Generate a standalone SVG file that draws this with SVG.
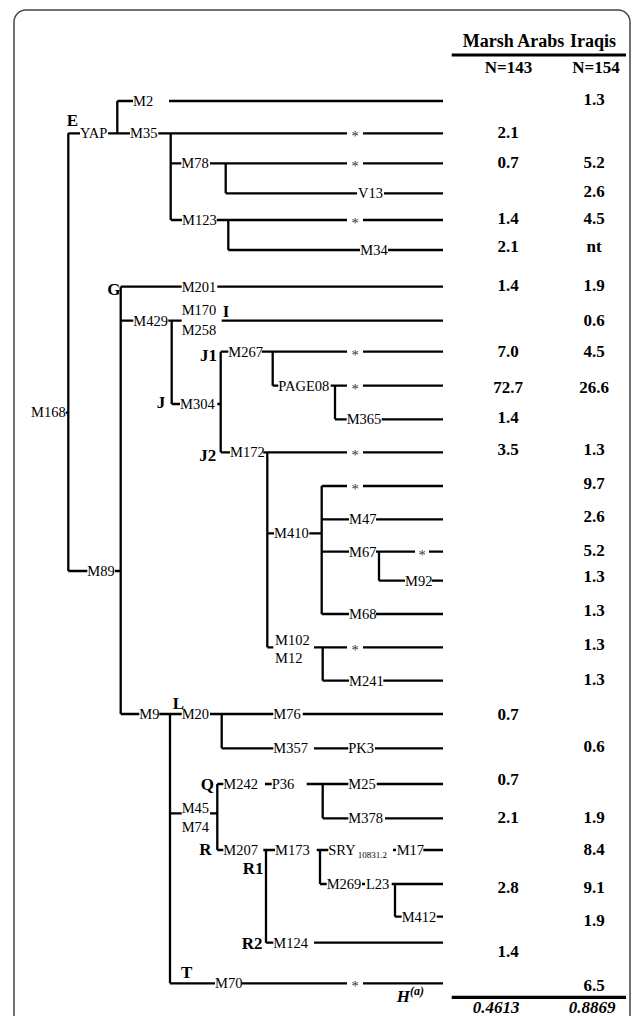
<svg xmlns="http://www.w3.org/2000/svg" width="633" height="1016" viewBox="0 0 633 1016">
<style>
.ln{fill:none;stroke:#000;stroke-width:2.3;stroke-linecap:butt}
.thick{fill:none;stroke:#000;stroke-width:3.2}
.lb{font-family:"Liberation Serif","Times New Roman",serif;font-size:14.5px;fill:#000}
.st{font-family:"Liberation Serif","Times New Roman",serif;font-size:14.5px;fill:#333;text-anchor:middle}
.hg{font-family:"Liberation Serif","Times New Roman",serif;font-size:17px;font-weight:bold;fill:#000}
.v{font-family:"Liberation Serif","Times New Roman",serif;font-size:17px;font-weight:bold;fill:#000;text-anchor:middle}
.hd{font-family:"Liberation Serif","Times New Roman",serif;font-size:18px;font-weight:bold;fill:#000}
.it{font-family:"Liberation Serif","Times New Roman",serif;font-size:17px;font-weight:bold;font-style:italic;fill:#000;text-anchor:middle}
</style>
<rect x="0" y="0" width="633" height="1016" fill="#fff"/>
<rect x="14" y="10" width="616" height="1030" rx="12" ry="12" fill="#fff" stroke="#444" stroke-width="1.5"/>

<g id="connectors">
<path class="ln" d="M68.3,133.3V571 M68.3,133.3H80 M108,133.3H130 M158.3,133.3H347 M363,133.3H443
M117.3,101V133.3 M117.3,101H133 M169,101H443
M170.7,133.3V220 M170.7,163.3H181.3 M210,163.3H347 M363,163.3H443
M225.7,163.3V193.3 M225.7,193.3H357 M384,193.3H443
M170.7,220H182 M216.7,220H347 M363,220H443
M228.3,220V250 M228.3,250H360 M388,250H443
M65.7,412.7H68.3 M68.3,571H87.3 M115,571H120.7"/>
<path class="ln" d="M120.7,286.7V714 M120.7,286.7H181.7 M217.3,286.7H443
M120.7,320.7H133.3 M168.3,320.7H181.7 M221.7,320.7H443
M171.7,320.7V404 M171.7,404H180 M217.3,404H220.7
M220.7,351.7V452.3 M220.7,351.7H228.3 M261.7,351.7H347 M363,351.7H443
M272.7,351.7V385.7 M272.7,385.7H278.3 M330.7,385.7H347 M363,385.7H443
M335,385.7V419.3 M335,419.3H346.7 M381.7,419.3H443
M220.7,452.3H230 M263.3,452.3H347 M363,452.3H443
M267.3,452.3V647.3 M267.3,533.3H274 M309.3,533.3H321.7
M321.7,486V614 M321.7,486H347 M363,486H443
M321.7,519.3H349 M376,519.3H443
M321.7,551.7H349 M376,551.7H415 M429,551.7H443
M379,551.7V580.7 M379,580.7H405 M431.7,580.7H443
M321.7,614H349 M376,614H443
M267.3,647.3H273.3 M314,647.3H347 M363,647.3H443
M322.7,647.3V680.7 M322.7,680.7H349 M383.3,680.7H443"/>
<path class="ln" d="M120.7,714H139.3 M159.3,714H181.7 M170,714V983.3
M210,714H273.3 M302.7,714H443
M221.7,714V748.3 M221.7,748.3H273.3 M314,748.3H348.3 M375,748.3H443
M170,813.3H181.7 M210,813.3H217.3
M217.3,784V850 M217.3,784H223.3 M265,784H271.7 M306.7,784H348.3 M376.7,784H443
M322.7,784V818.3 M322.7,818.3H348.3 M385,818.3H443
M217.3,850H223.3 M263.3,850H275
M266,850V942.7
M316.7,850H328.3 M320,850V884
M393,850H396 M423.3,850H443
M320,884H326.7 M362,884H365 M391.7,884H443
M395,884V916.7 M395,916.7H401.7 M436.7,916.7H443
M266,942.7H273.3 M314,942.7H443
M170,983.3H215 M241.7,983.3H347 M363,983.3H443"/>
<path class="thick" d="M451.7,55H626 M451.7,997.3H626"/>
</g>

<g id="labels">
<text class="lb" x="133" y="106">M2</text>
<text class="lb" x="80" y="138.3">YAP</text>
<text class="lb" x="130" y="138.3">M35</text>
<text class="lb" x="181.3" y="168.3">M78</text>
<text class="lb" x="370.5" y="198.3" text-anchor="middle">V13</text>
<text class="lb" x="182" y="225">M123</text>
<text class="lb" x="374" y="255" text-anchor="middle">M34</text>
<text class="lb" x="31" y="417">M168</text>
<text class="lb" x="87.3" y="576">M89</text>
<text class="lb" x="181.7" y="291.7">M201</text>
<text class="lb" x="133.3" y="325.7">M429</text>
<text class="lb" x="181.7" y="315">M170</text>
<text class="lb" x="181.7" y="335">M258</text>
<text class="lb" x="180" y="409">M304</text>
<text class="lb" x="228.3" y="356.7">M267</text>
<text class="lb" x="278.3" y="390.7">PAGE08</text>
<text class="lb" x="346.7" y="424.3">M365</text>
<text class="lb" x="230" y="457.3">M172</text>
<text class="lb" x="274" y="538.3">M410</text>
<text class="lb" x="349" y="524.3">M47</text>
<text class="lb" x="349" y="556.7">M67</text>
<text class="lb" x="405" y="585.7">M92</text>
<text class="lb" x="349" y="619">M68</text>
<text class="lb" x="275" y="645">M102</text>
<text class="lb" x="275" y="662.7">M12</text>
<text class="lb" x="349" y="685.7">M241</text>
<text class="lb" x="139.3" y="719">M9</text>
<text class="lb" x="181.7" y="719">M20</text>
<text class="lb" x="273.3" y="719">M76</text>
<text class="lb" x="273.3" y="753.3">M357</text>
<text class="lb" x="348.3" y="753.3">PK3</text>
<text class="lb" x="223.3" y="789">M242</text>
<text class="lb" x="271.7" y="789">P36</text>
<text class="lb" x="348.3" y="789">M25</text>
<text class="lb" x="348.3" y="823.3">M378</text>
<text class="lb" x="181.7" y="813">M45</text>
<text class="lb" x="181.7" y="831.7">M74</text>
<text class="lb" x="223.3" y="855">M207</text>
<text class="lb" x="275" y="855">M173</text>
<text class="lb" x="328.3" y="855">SRY<tspan font-size="9" dy="3" dx="2">10831.2</tspan></text>
<text class="lb" x="396.7" y="855">M17</text>
<text class="lb" x="326.7" y="889">M269</text>
<text class="lb" x="366" y="889">L23</text>
<text class="lb" x="401.7" y="921.7">M412</text>
<text class="lb" x="273.3" y="947.7">M124</text>
<text class="lb" x="215" y="988.3">M70</text>
</g>

<g id="stars">
<text class="st" x="355" y="141.3">*</text>
<text class="st" x="355" y="171.3">*</text>
<text class="st" x="355" y="228">*</text>
<text class="st" x="355" y="359.7">*</text>
<text class="st" x="355" y="393.7">*</text>
<text class="st" x="355" y="460.3">*</text>
<text class="st" x="355" y="494">*</text>
<text class="st" x="422" y="559.7">*</text>
<text class="st" x="355" y="655.3">*</text>
<text class="st" x="355" y="991.3">*</text>
</g>

<g id="haplogroups">
<text class="hg" x="66.7" y="126">E</text>
<text class="hg" x="107.3" y="295">G</text>
<text class="hg" x="222.7" y="317">I</text>
<text class="hg" x="156.7" y="408.3">J</text>
<text class="hg" x="200" y="360.7">J1</text>
<text class="hg" x="199.3" y="460.7">J2</text>
<text class="hg" x="172.7" y="709.3">L</text>
<text class="hg" x="200.7" y="790">Q</text>
<text class="hg" x="199.3" y="855">R</text>
<text class="hg" x="242.7" y="874">R1</text>
<text class="hg" x="241.7" y="949.3">R2</text>
<text class="hg" x="181" y="978.3">T</text>
</g>

<g id="table">
<text class="hd" x="462.7" y="47">Marsh Arabs</text>
<text class="hd" x="570" y="47">Iraqis</text>
<text class="v" x="508.5" y="73">N=143</text>
<text class="v" x="596" y="73">N=154</text>
<text class="v" x="594" y="105">1.3</text>
<text class="v" x="508" y="138">2.1</text>
<text class="v" x="508" y="168">0.7</text><text class="v" x="594" y="168">5.2</text>
<text class="v" x="594" y="197">2.6</text>
<text class="v" x="508" y="224">1.4</text><text class="v" x="594" y="224">4.5</text>
<text class="v" x="508" y="252">2.1</text><text class="v" x="594" y="252">nt</text>
<text class="v" x="508" y="291">1.4</text><text class="v" x="594" y="291">1.9</text>
<text class="v" x="594" y="326">0.6</text>
<text class="v" x="508" y="357">7.0</text><text class="v" x="594" y="357">4.5</text>
<text class="v" x="508" y="392.7">72.7</text><text class="v" x="594" y="392.7">26.6</text>
<text class="v" x="508" y="423.3">1.4</text>
<text class="v" x="508" y="455">3.5</text><text class="v" x="594" y="455">1.3</text>
<text class="v" x="594" y="489.3">9.7</text>
<text class="v" x="594" y="521.7">2.6</text>
<text class="v" x="594" y="556">5.2</text>
<text class="v" x="594" y="582">1.3</text>
<text class="v" x="594" y="616">1.3</text>
<text class="v" x="594" y="650">1.3</text>
<text class="v" x="594" y="685">1.3</text>
<text class="v" x="508" y="720">0.7</text>
<text class="v" x="594" y="752">0.6</text>
<text class="v" x="508" y="785">0.7</text>
<text class="v" x="508" y="823.3">2.1</text><text class="v" x="594" y="823.3">1.9</text>
<text class="v" x="594" y="855">8.4</text>
<text class="v" x="508" y="892.7">2.8</text><text class="v" x="594" y="892.7">9.1</text>
<text class="v" x="594" y="926">1.9</text>
<text class="v" x="508" y="957">1.4</text>
<text class="v" x="594" y="990.7">6.5</text>
<text class="hg" x="396.7" y="1002" font-size="18" font-style="italic">H<tspan font-size="12" dy="-7">(a)</tspan></text>
<text class="it" x="496" y="1013">0.4613</text>
<text class="it" x="592" y="1013">0.8869</text>
</g>
</svg>
